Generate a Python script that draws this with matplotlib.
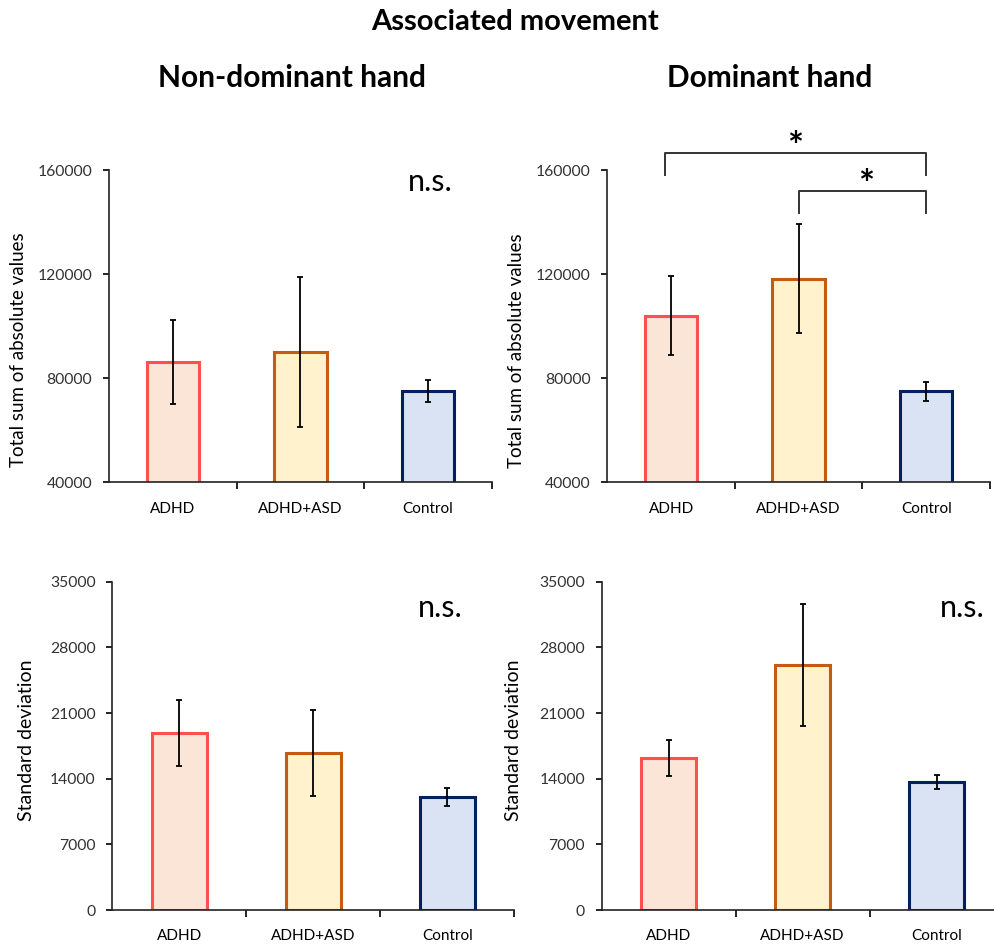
import matplotlib.pyplot as plt

plt.rcParams["font.family"] = ["Lato", "DejaVu Sans"]

# ---------------------------------------------------------------------------
# Data
# ---------------------------------------------------------------------------

groups = ["ADHD", "ADHD+ASD", "Control"]

# total sum of absolute values
sum_nondom     = [86200, 90100, 75200]
sum_nondom_err = [16000, 28700, 4200]
sum_dom        = [104000, 118200, 74900]
sum_dom_err    = [15100, 21000, 3500]

# standard deviation
sd_nondom      = [18900, 16750, 12050]
sd_nondom_err  = [3500, 4560, 1000]
sd_dom         = [16200, 26150, 13650]
sd_dom_err     = [1950, 6500, 760]

fill_colors = ["#FBE5D6", "#FFF2CC", "#DAE3F3"]
edge_colors = ["#FF5050", "#C55A11", "#002060"]

# ---------------------------------------------------------------------------
# Plot
# ---------------------------------------------------------------------------

W, H = 995, 946
fig = plt.figure(figsize=(W / 100, H / 100), dpi=100)


def add_axes(left, top, right, bottom):
    return fig.add_axes([left / W, 1 - bottom / H, (right - left) / W, (bottom - top) / H])


def bar_panel(ax, vals, errs, ylim, yticks, ylabel, ylabel_xy, ylabel_size):
    x = range(len(groups))
    ax.bar(x, vals, width=0.41, color=fill_colors, edgecolor=edge_colors,
           linewidth=2.2, zorder=2)
    ax.errorbar(x, vals, yerr=errs, fmt="none", ecolor="black", elinewidth=1.3,
                capsize=2.5, capthick=1.3, zorder=3)
    ax.set_xlim(-0.5, len(groups) - 0.5)
    ax.set_ylim(*ylim)
    ax.set_yticks(yticks)
    ax.set_xticks(list(x))
    ax.set_xticklabels(groups, fontsize=11)
    ax.set_xticks([0.5, 1.5, 2.5], minor=True)
    ax.tick_params(axis="x", which="major", length=0, pad=14)
    ax.tick_params(axis="x", which="minor", length=5, width=1.2, direction="out")
    ax.tick_params(axis="y", length=4, width=1.2, labelsize=11.3, pad=8,
                   labelcolor="#333333")
    for s in ("top", "right"):
        ax.spines[s].set_visible(False)
    for s in ("left", "bottom"):
        ax.spines[s].set_linewidth(1.2)
        ax.spines[s].set_color("#222222")
    ax.set_ylabel(ylabel, fontsize=ylabel_size)
    ax.yaxis.set_label_coords(*ylabel_xy)


ax1 = add_axes(109, 170, 491.7, 482.3)
ax2 = add_axes(607.3, 170, 990, 482.3)
ax3 = add_axes(112.3, 581.7, 514.3, 910)
ax4 = add_axes(601.7, 581.7, 1003.7, 910)

sum_ticks = [40000, 80000, 120000, 160000]
sd_ticks = [0, 7000, 14000, 21000, 28000, 35000]

bar_panel(ax1, sum_nondom, sum_nondom_err, (40000, 160000), sum_ticks,
          "Total sum of absolute values", (-0.214, 0.425), 13.5)
bar_panel(ax2, sum_dom, sum_dom_err, (40000, 160000), sum_ticks,
          "Total sum of absolute values", (-0.215, 0.42), 13.5)
bar_panel(ax3, sd_nondom, sd_nondom_err, (0, 35000), sd_ticks,
          "Standard deviation", (-0.192, 0.516), 14)
bar_panel(ax4, sd_dom, sd_dom_err, (0, 35000), sd_ticks,
          "Standard deviation", (-0.199, 0.516), 14)

# n.s. labels
ax1.text(2.02, 155500, "n.s.", fontsize=22, ha="center", va="center")
ax3.text(1.95, 32200, "n.s.", fontsize=22, ha="center", va="center")
ax4.text(2.19, 32200, "n.s.", fontsize=22, ha="center", va="center")

# significance brackets (dominant hand, sum of absolute values)
def bracket(ax, x0, x1, y_top, y_drop, star_x, star_y):
    ax.plot([x0, x0, x1, x1], [y_drop, y_top, y_top, y_drop], color="#333333",
            lw=1.4, clip_on=False, zorder=4)
    ax.text(star_x, star_y, "*", fontsize=27, fontweight="bold", ha="center",
            va="center", clip_on=False)

bracket(ax2, -0.05, 2.0, 166500, 158000, 0.97, 168500)
bracket(ax2, 1.0, 2.0, 151800, 143500, 1.53, 154000)

# titles
fig.text(515 / W, 1 - 22 / H, "Associated movement", fontsize=21,
         fontweight="bold", ha="center", va="center")
fig.text(292 / W, 1 - 78 / H, "Non-dominant hand", fontsize=21.5,
         fontweight="bold", ha="center", va="center")
fig.text(770 / W, 1 - 78 / H, "Dominant hand", fontsize=21.5,
         fontweight="bold", ha="center", va="center")

fig.savefig("out.png", dpi=100)
